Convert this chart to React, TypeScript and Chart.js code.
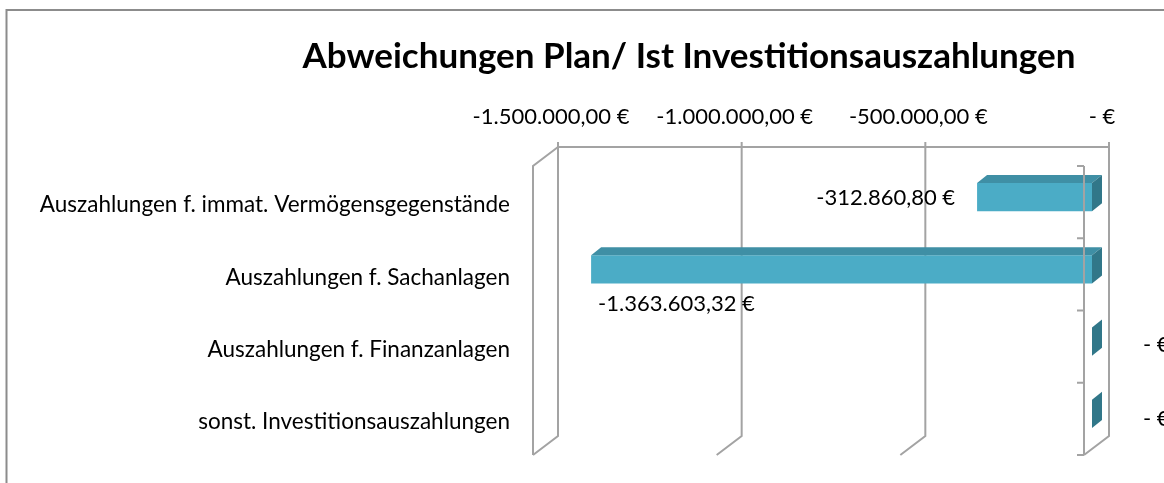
import React, { useEffect, useRef } from "react";
import { Chart, registerables } from "chart.js";

Chart.register(...registerables);

// ---------- data ----------
const categories: string[] = [
  "Auszahlungen f. immat. Vermögensgegenstände",
  "Auszahlungen f. Sachanlagen",
  "Auszahlungen f. Finanzanlagen",
  "sonst. Investitionsauszahlungen",
];
const deviations: number[] = [-312860.8, -1363603.32, 0, 0];
const axisMin = -1500000;
const axisMax = 0;
const axisStep = 500000;
const chartTitle = "Abweichungen Plan/ Ist Investitionsauszahlungen";

// ---------- style ----------
const FONT = "Lato, 'Open Sans', sans-serif";
const TICK_SIZE = 22;
const CAT_SIZE = 22.5;
const TITLE_SIZE = 35;
const TITLE_X = 689;
const TITLE_Y = 57;
const GRID = "#a3a3a3";
const FRONT_COLOR = "#4BACC6";
const TOP_COLOR = "#3F8FA5";
const SIDE_COLOR = "#317789";
const BACK = { dx: 17, dy: -14 };
const FRONTP = { dx: -8, dy: 5 };
const DEPTH = { dx: 10, dy: -8 };
const CANVAS_W = 1164;
const CANVAS_H = 483;
const PAD_TOP = 78;
const CA_TOP = 161;
const CA_LEFT = 541;
const CA_RIGHT = 1092;
const CA_BOTTOM = 450;
// label placement per bar: anchor offset from bar's value end
const labelStyle = [
  { dx: -22, dy: 1, align: "right" },
  { dx: 7, dy: 35, align: "left" },
  { dx: 51, dy: 3, align: "left" },
  { dx: 51, dy: 5, align: "left" },
];

function formatEuro(v: number): string {
  if (Math.abs(v) < 0.005) return "- €";
  const neg = v < 0;
  const fixed = Math.abs(v).toFixed(2);
  const [intPart, dec] = fixed.split(".");
  const grouped = intPart.replace(/\B(?=(\d{3})+(?!\d))/g, ".");
  return (neg ? "-" : "") + grouped + "," + dec + " €";
}

const framePlugin = {
  id: "frame3d",
  beforeDraw(chart: any) {
    const ctx = chart.ctx;
    ctx.save();
    ctx.strokeStyle = "#8c8c8c";
    ctx.lineWidth = 2;
    ctx.beginPath();
    ctx.moveTo(6.5, CANVAS_H);
    ctx.lineTo(6.5, 10);
    ctx.lineTo(CANVAS_W, 10);
    ctx.stroke();
    // chart title
    ctx.fillStyle = "#000";
    ctx.font = `bold ${TITLE_SIZE}px ${FONT}`;
    ctx.textAlign = "center";
    ctx.textBaseline = "middle";
    ctx.fillText(chartTitle, TITLE_X, TITLE_Y);
    ctx.restore();
  },
  beforeDatasetsDraw(chart: any) {
    const { ctx, chartArea: ca, scales } = chart;
    const xs = scales.x;
    const px: number[] = xs.ticks.map((t: any) => xs.getPixelForValue(t.value));
    const bTop = ca.top + BACK.dy;
    const bBot = ca.bottom + BACK.dy;
    const fTop = ca.top + FRONTP.dy;
    const fBot = ca.bottom + FRONTP.dy;
    ctx.save();
    ctx.strokeStyle = GRID;
    ctx.lineWidth = 2;
    px.forEach((p) => {
      ctx.beginPath();
      ctx.moveTo(p + BACK.dx, bTop - 5);
      ctx.lineTo(p + BACK.dx, bBot);
      ctx.lineTo(p + FRONTP.dx, fBot);
      ctx.stroke();
    });
    const lx = xs.getPixelForValue(axisMin);
    const rx = xs.getPixelForValue(axisMax);
    ctx.beginPath();
    ctx.moveTo(lx + BACK.dx, bTop);
    ctx.lineTo(rx + BACK.dx, bTop);
    ctx.stroke();
    ctx.beginPath();
    ctx.moveTo(lx + BACK.dx, bTop);
    ctx.lineTo(lx + FRONTP.dx, fTop);
    ctx.lineTo(lx + FRONTP.dx, fBot);
    ctx.stroke();
    ctx.restore();
  },
  afterDatasetsDraw(chart: any) {
    const { ctx, chartArea: ca, scales } = chart;
    const xs = scales.x;
    const meta = chart.getDatasetMeta(0);
    ctx.save();
    meta.data.forEach((bar: any) => {
      const { x, y, base, height } = bar.getProps(["x", "y", "base", "height"], true);
      const left = Math.min(x, base);
      const right = Math.max(x, base);
      const top = y - height / 2;
      const bottom = y + height / 2;
      if (right - left > 0.5) {
        ctx.fillStyle = TOP_COLOR;
        ctx.beginPath();
        ctx.moveTo(left, top);
        ctx.lineTo(left + DEPTH.dx, top + DEPTH.dy);
        ctx.lineTo(right + DEPTH.dx, top + DEPTH.dy);
        ctx.lineTo(right, top);
        ctx.closePath();
        ctx.fill();
      }
      ctx.fillStyle = SIDE_COLOR;
      ctx.beginPath();
      ctx.moveTo(right, top);
      ctx.lineTo(right + DEPTH.dx, top + DEPTH.dy);
      ctx.lineTo(right + DEPTH.dx, bottom + DEPTH.dy);
      ctx.lineTo(right, bottom);
      ctx.closePath();
      ctx.fill();
    });
    // front category axis
    const zx = xs.getPixelForValue(axisMax) + FRONTP.dx;
    const fTop = ca.top + FRONTP.dy;
    const fBot = ca.bottom + FRONTP.dy;
    ctx.strokeStyle = GRID;
    ctx.lineWidth = 2;
    ctx.beginPath();
    ctx.moveTo(zx, fTop);
    ctx.lineTo(zx, fBot);
    ctx.stroke();
    const n = categories.length;
    for (let i = 0; i <= n; i++) {
      const ty = fTop + ((fBot - fTop) * i) / n;
      ctx.beginPath();
      ctx.moveTo(zx - 7, ty);
      ctx.lineTo(zx, ty);
      ctx.stroke();
    }
    // data labels
    ctx.fillStyle = "#000";
    ctx.font = `${TICK_SIZE}px ${FONT}`;
    ctx.textBaseline = "middle";
    meta.data.forEach((bar: any, i: number) => {
      const { x, y } = bar.getProps(["x", "y"], true);
      const st = labelStyle[i];
      ctx.textAlign = st.align as CanvasTextAlign;
      ctx.fillText(formatEuro(deviations[i]), x + st.dx, y + st.dy);
    });
    ctx.restore();
  },
};

export default function App() {
  const ref = useRef<HTMLCanvasElement | null>(null);
  useEffect(() => {
    if (!ref.current) return;
    const chart = new Chart(ref.current, {
      type: "bar",
      data: {
        labels: categories,
        datasets: [
          {
            data: deviations,
            backgroundColor: FRONT_COLOR,
            borderWidth: 0,
            categoryPercentage: 1,
            barPercentage: 0.39,
          },
        ],
      },
      options: {
        indexAxis: "y",
        responsive: false,
        animation: false,
        layout: {
          padding: { top: PAD_TOP, left: 0, right: CANVAS_W - CA_RIGHT, bottom: CANVAS_H - CA_BOTTOM },
        },
        plugins: {
          legend: { display: false },
          tooltip: { enabled: false },
          title: { display: false },
        },
        scales: {
          x: {
            type: "linear",
            position: "top",
            min: axisMin,
            max: axisMax,
            grid: { display: false, drawTicks: false },
            border: { display: false },
            ticks: {
              stepSize: axisStep,
              autoSkip: false,
              maxRotation: 0,
              color: "#000",
              padding: 31,
              labelOffset: 10,
              font: { family: FONT, size: TICK_SIZE },
              callback: (v: any) => formatEuro(Number(v)),
            },
            afterFit: (s: any) => {
              s.height = CA_TOP - PAD_TOP;
              s.paddingLeft = 0;
              s.paddingRight = 0;
            },
          },
          y: {
            type: "category",
            grid: { display: false, drawTicks: false },
            border: { display: false },
            ticks: {
              color: "#000",
              padding: 31,
              labelOffset: 8,
              autoSkip: false,
              font: { family: FONT, size: CAT_SIZE },
            },
            afterFit: (s: any) => {
              s.width = CA_LEFT;
              s.paddingTop = 0;
              s.paddingBottom = 0;
            },
          },
        },
      },
      plugins: [framePlugin],
    });
    return () => chart.destroy();
  }, []);
  return (
    <div
      style={{
        position: "absolute",
        left: 0,
        top: 0,
        width: CANVAS_W,
        height: CANVAS_H,
        overflow: "hidden",
        background: "#fff",
      }}
    >
      <canvas ref={ref} width={CANVAS_W} height={CANVAS_H} style={{ display: "block" }} />
    </div>
  );
}
